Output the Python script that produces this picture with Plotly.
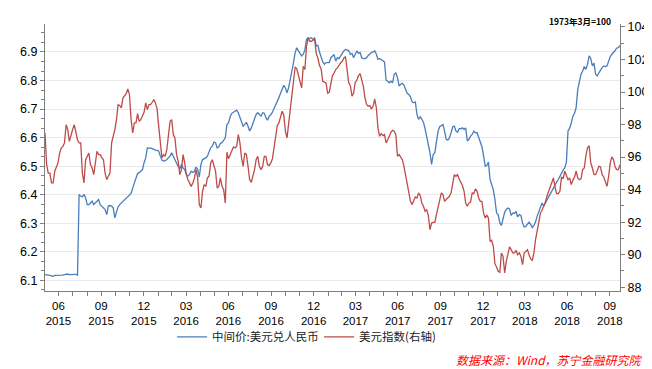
import pandas as pd
import plotly.graph_objects as go

# ---- data (one value every 3.5 days from 2015-06-01) ----
start_date = "2015-06-01"
step = "84h"

cny_mid = [
    6.120, 6.120, 6.118, 6.117, 6.114, 6.114, 6.117, 6.117, 6.118, 6.118, 6.117, 6.118, 6.120, 6.122, 6.122, 6.120, 6.120, 6.122, 6.121, 6.121,
    6.118, 6.401, 6.395, 6.392, 6.401, 6.389, 6.365, 6.365, 6.371, 6.377, 6.365, 6.371, 6.377, 6.383, 6.365, 6.360, 6.354, 6.348, 6.330, 6.360,
    6.362, 6.360, 6.354, 6.319, 6.339, 6.357, 6.365, 6.371, 6.377, 6.383, 6.389, 6.395, 6.398, 6.404, 6.424, 6.439, 6.453, 6.474, 6.477, 6.482,
    6.488, 6.512, 6.529, 6.564, 6.564, 6.563, 6.561, 6.558, 6.556, 6.555, 6.553, 6.535, 6.521, 6.518, 6.519, 6.523, 6.528, 6.535, 6.547, 6.535,
    6.518, 6.512, 6.498, 6.491, 6.506, 6.494, 6.488, 6.471, 6.465, 6.471,
    6.482, 6.478, 6.482, 6.497, 6.488, 6.462, 6.506, 6.523, 6.526, 6.529, 6.535, 6.553, 6.564, 6.570, 6.584, 6.582, 6.564, 6.568, 6.580, 6.582,
    6.591, 6.599, 6.646, 6.652, 6.673, 6.685, 6.689, 6.693, 6.696, 6.687, 6.670, 6.654, 6.640, 6.646, 6.654, 6.640, 6.623, 6.634, 6.654, 6.666,
    6.681, 6.687, 6.681, 6.675, 6.687, 6.685, 6.670, 6.661, 6.675, 6.680, 6.689, 6.701, 6.716, 6.730, 6.740, 6.755, 6.771, 6.783, 6.774, 6.757,
    6.775, 6.802, 6.839, 6.863, 6.898, 6.915, 6.904, 6.892, 6.886, 6.892, 6.907, 6.944, 6.950, 6.947, 6.950, 6.944, 6.949, 6.921, 6.923, 6.900,
    6.884, 6.865, 6.857, 6.863, 6.863, 6.863, 6.880, 6.886, 6.891,
    6.868, 6.880, 6.877, 6.884, 6.895, 6.904, 6.909, 6.907, 6.904, 6.892, 6.895, 6.880, 6.892, 6.904, 6.895, 6.898, 6.880, 6.877, 6.877, 6.880,
    6.888, 6.895, 6.898, 6.900, 6.904, 6.892, 6.874, 6.877, 6.872, 6.868, 6.865, 6.802, 6.795, 6.792, 6.798, 6.792, 6.822, 6.827, 6.810, 6.781,
    6.787, 6.790, 6.783, 6.769, 6.755, 6.751, 6.743, 6.725, 6.722, 6.725, 6.681, 6.664, 6.673, 6.664, 6.654, 6.631, 6.605, 6.576, 6.547, 6.506,
    6.541, 6.547, 6.584, 6.623, 6.638, 6.643, 6.646, 6.623, 6.594, 6.591, 6.599, 6.617, 6.638, 6.640, 6.623, 6.619, 6.631, 6.631, 6.634, 6.629,
    6.634, 6.588, 6.594, 6.605, 6.611, 6.623, 6.617, 6.617,
    6.599, 6.588, 6.568, 6.537, 6.500, 6.502, 6.514, 6.453, 6.439, 6.418, 6.383, 6.336, 6.330, 6.301, 6.292, 6.315, 6.339, 6.348, 6.353, 6.350,
    6.327, 6.336, 6.334, 6.341, 6.322, 6.330, 6.327, 6.301, 6.287, 6.289, 6.295, 6.304, 6.295, 6.285, 6.292, 6.304, 6.325, 6.342, 6.360, 6.371,
    6.360, 6.371, 6.383, 6.392, 6.401, 6.412, 6.426, 6.434, 6.444, 6.453, 6.465, 6.477, 6.486, 6.494, 6.514, 6.623, 6.633, 6.652, 6.675, 6.685,
    6.705, 6.769, 6.792, 6.822, 6.833, 6.849, 6.839, 6.857, 6.886, 6.877, 6.851, 6.861, 6.822, 6.816, 6.827, 6.839, 6.845, 6.851, 6.849, 6.851,
    6.872, 6.884, 6.892, 6.898, 6.905, 6.914, 6.915, 6.923,
]

dxy = [
    97.48, 95.54, 95.02, 95.02, 94.41, 94.41, 95.13, 95.43, 95.64, 96.25, 96.56, 96.66, 96.87, 97.99, 97.69, 96.97, 97.38, 97.69, 97.99, 97.59,
    97.07, 96.87, 96.87, 95.02, 94.41, 95.84, 96.05, 96.25, 95.54, 95.33, 94.92, 95.64, 96.36, 96.15, 96.15, 95.95, 95.84, 95.02, 94.61, 94.82,
    95.02, 96.87, 97.28, 97.69, 98.30, 99.23, 99.16, 99.02, 99.64, 99.78, 99.90, 100.19, 99.84, 98.30, 97.48, 98.10, 98.10, 98.67, 98.20, 98.30,
    98.51, 98.75, 99.33, 98.92, 99.23, 99.23, 99.37, 99.53, 99.33, 98.96, 97.89, 96.87, 95.95, 96.15, 96.05, 96.46, 97.28, 98.20, 98.30, 97.38,
    97.18, 96.15, 95.74, 94.92, 95.23, 96.15, 95.64, 94.92, 94.61, 94.37,
    94.20, 94.41, 94.72, 95.23, 94.72, 93.08, 92.87, 93.90, 94.31, 94.20, 94.72, 94.82, 95.64, 95.84, 95.43, 95.13, 94.10, 94.20, 94.72, 94.20,
    94.00, 93.18, 96.30, 95.89, 96.15, 96.36, 96.62, 96.56, 96.66, 97.38, 96.87, 95.95, 95.43, 96.25, 96.15, 95.43, 94.61, 94.45, 94.78, 95.23,
    95.84, 96.05, 95.43, 95.23, 95.43, 96.05, 96.05, 95.54, 95.48, 95.64, 95.89, 96.66, 97.48, 97.93, 98.10, 98.51, 98.82, 98.61, 97.59, 97.18,
    98.10, 98.92, 100.05, 100.97, 101.54, 101.42, 101.07, 100.66, 100.25, 101.58, 101.38, 102.81, 103.32, 103.12, 103.12, 103.18, 103.26, 102.36, 102.09, 101.62,
    101.42, 100.66, 100.60, 100.56, 99.94, 99.98, 100.52, 101.01, 101.17,
    101.38, 101.48, 101.68, 101.79, 101.89, 102.09, 102.16, 101.38, 100.56, 100.39, 99.74, 99.94, 100.60, 100.72, 101.01, 101.13, 100.76, 100.35, 99.64, 99.23,
    99.12, 99.16, 98.96, 99.12, 99.57, 99.02, 97.79, 97.28, 97.44, 97.32, 97.38, 96.87, 97.07, 97.32, 97.52, 97.65, 97.59, 97.38, 96.05, 96.15,
    95.95, 95.84, 95.43, 94.92, 94.41, 94.00, 93.28, 93.08, 93.28, 93.55, 93.49, 93.80, 93.63, 93.18, 92.98, 92.67, 92.77, 92.40, 91.54, 91.95,
    91.99, 91.99, 92.46, 92.98, 93.49, 93.80, 93.69, 93.28, 93.39, 93.49, 93.59, 93.80, 94.51, 94.92, 94.82, 94.92, 94.65, 94.45, 94.25, 93.90,
    93.18, 92.98, 93.18, 93.22, 93.80, 93.75, 94.04, 93.90,
    93.49, 93.28, 93.28, 92.57, 92.26, 92.42, 92.26, 90.82, 90.89, 90.52, 89.45, 89.25, 88.98, 88.92, 90.11, 89.90, 88.88, 89.59, 90.11, 90.48,
    90.31, 90.11, 90.11, 90.27, 90.00, 90.11, 89.90, 89.39, 90.11, 90.21, 90.31, 90.00, 89.74, 89.66, 90.11, 90.93, 91.58, 91.99, 92.57, 92.73,
    92.98, 93.22, 93.59, 93.90, 94.20, 94.51, 94.72, 94.16, 93.75, 93.75, 93.90, 94.78, 94.66, 95.13, 94.82, 94.61, 94.72, 94.31, 94.57, 94.78,
    95.13, 94.72, 94.61, 94.66, 95.23, 95.33, 96.09, 96.56, 96.70, 95.64, 95.33, 94.92, 94.92, 95.23, 95.43, 95.39, 94.92, 94.78, 94.45, 94.20,
    94.82, 95.64, 96.01, 95.84, 95.39, 95.23, 95.23, 95.54,
]

quarter_labels = [
    "06<br>2015", "09<br>2015", "12<br>2015", "03<br>2016", "06<br>2016", "09<br>2016", "12<br>2016",
    "03<br>2017", "06<br>2017", "09<br>2017", "12<br>2017", "03<br>2018", "06<br>2018", "09<br>2018",
]
series_names = ["中间价:美元兑人民币", "美元指数(右轴)"]
source_text = "数据来源：Wind，苏宁金融研究院"
base_note = "1973年3月=100"

# ---- build ----
dates = pd.date_range(start_date, periods=len(cny_mid), freq=step)
month_ticks = pd.date_range("2015-06-30", "2018-09-30", freq=pd.offsets.MonthEnd())
tick_text = [quarter_labels[i // 3] if i % 3 == 0 else "" for i in range(len(month_ticks))]

AX = "#7f7f7f"
TICKFONT = dict(family="Liberation Sans, Arial, sans-serif", size=12.5, color="#000000")

fig = go.Figure()
fig.add_trace(go.Scatter(x=dates, y=cny_mid, name=series_names[0], mode="lines",
                         line=dict(color="#4A7EBB", width=1.3), yaxis="y"))
fig.add_trace(go.Scatter(x=dates, y=dxy, name=series_names[1], mode="lines",
                         line=dict(color="#BE4B48", width=1.3), yaxis="y2"))

fig.update_layout(
    width=652, height=369,
    margin=dict(l=33, r=39, t=16, b=86),
    paper_bgcolor="white", plot_bgcolor="white",
    showlegend=True,
    legend=dict(orientation="h", x=0.221, xanchor="left", y=-0.172, yanchor="middle",
                font=dict(family="Noto Sans CJK SC", size=11.5, color="#222222"),
                bgcolor="rgba(0,0,0,0)", itemwidth=30, traceorder="normal",
                entrywidth=102, entrywidthmode="pixels"),
    xaxis=dict(
        type="date", range=[dates[0], dates[-1]],
        tickmode="array", tickvals=month_ticks, ticktext=tick_text,
        ticks="outside", ticklen=4, tickcolor=AX, showline=True, linecolor=AX, linewidth=1,
        showgrid=False, zeroline=False,
        tickfont=dict(family="Liberation Sans, Arial, sans-serif", size=11.5, color="#000000"),
    ),
    yaxis=dict(
        range=[6.0625, 6.998], tickmode="linear", tick0=6.1, dtick=0.1, tickformat=".1f",
        ticks="outside", ticklen=4, tickcolor=AX, showline=True, linecolor=AX, linewidth=1,
        showgrid=True, gridcolor="#e9e9e9", gridwidth=1, zeroline=False,
        tickfont=TICKFONT,
        minor=dict(tickmode="linear", tick0=6.0, dtick=0.1 / 3, ticks="outside", ticklen=3,
                   tickcolor=AX, showgrid=False),
    ),
    yaxis2=dict(
        range=[87.77, 104.18], tickmode="linear", tick0=88, dtick=2,
        overlaying="y", side="right",
        ticks="outside", ticklen=4, tickcolor=AX, showline=True, linecolor=AX, linewidth=1,
        showgrid=False, zeroline=False,
        tickfont=TICKFONT,
        minor=dict(tickmode="linear", tick0=88, dtick=1, ticks="outside", ticklen=3,
                   tickcolor=AX, showgrid=False),
    ),
    annotations=[
        dict(text=source_text, xref="paper", yref="paper", x=1.043, y=-0.255,
             xanchor="right", yanchor="middle", showarrow=False,
             font=dict(family="Noto Sans CJK SC", size=12, color="#FF0000", style="italic")),
        dict(text="<b>" + base_note + "</b>", xref="paper", yref="paper", x=0.988, y=1.012,
             xanchor="right", yanchor="middle", showarrow=False,
             font=dict(family="Noto Sans CJK SC", size=8.5, color="#000000")),
    ],
)

fig.write_html("out.html")
